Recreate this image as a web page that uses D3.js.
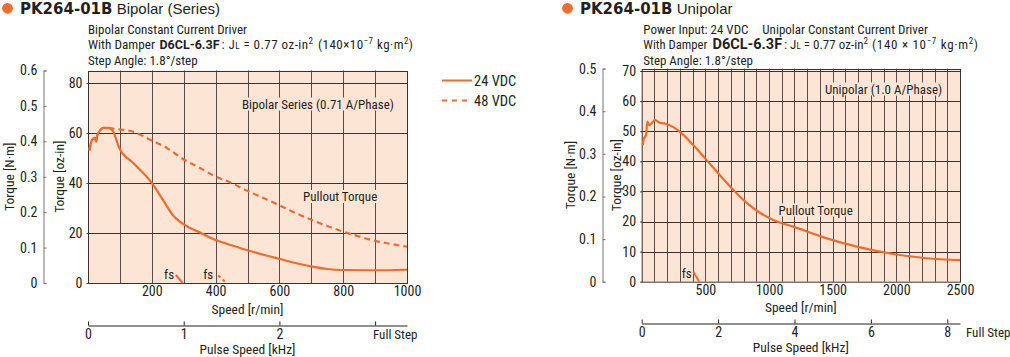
<!DOCTYPE html>
<html><head><meta charset="utf-8">
<script src="https://cdn.jsdelivr.net/npm/d3@7"></script>
<style>
body{margin:0;background:#fff}
text{font-family:'Roboto Condensed','Liberation Sans',sans-serif;fill:#231f20}
</style></head><body>
<svg id="c" width="1010" height="357"></svg>
<script>
// ---------- DATA ----------
// Bipolar (Series) chart, speed in r/min, torque in oz-in
const bipSpeed24  = [4,12,22,25,29,38,48,64,79,98,142,200,236,267,290,320,351,398,450,497,550,602,650,706,750,800,894,1000];
const bipTorque24 = [53,57,58,56.5,59,61,62,62,60.5,54,48,40,33,27,24.3,22,20.2,17.3,15.1,13.2,11.3,9.6,8.0,6.5,5.6,5.2,5.1,5.3];
const bipSpeed48  = [4,12,22,25,29,38,48,64,85,142,200,247,299,351,393,450,497,550,602,650,706,750,800,850,894,950,1000];
const bipTorque48 = [53,57,58,56.5,59,61,62,62,61.6,60.5,57,54,49.5,46,43,40,37,34,31,28,25,22.8,20.5,18.6,17,15.6,14.5];
const bipFsSpeed24 = [275,297], bipFsTorque24 = [3.3,0];
const bipFsSpeed48 = [408,434], bipFsTorque48 = [3,0];
const bipSpeedTicks = [200,400,600,800,1000];
const bipOzTicks = [0,20,40,60,80];
const bipNmTicks = [0,0.1,0.2,0.3,0.4,0.5,0.6];
const bipKhzTicks = [0,1,2,3];
const bipKhzLabels = ["0","1","2",""];
const legendLabels = ["24 VDC","48 VDC"];

// Unipolar chart
const uniSpeed  = [8,18,34,44,60,78,104,144,196,301,405,510,615,720,825,929,1034,1191,1453,1715,1976,2238,2500];
const uniTorque = [45.4,47.6,48.7,53.2,52,52.6,53.7,52.8,52.4,49.8,45.4,40.4,35.4,30.5,26.2,22.9,20.5,18.3,14.4,11.4,9.2,7.8,7.2];
const uniFsSpeed = [405,452], uniFsTorque = [3.3,0];
const uniSpeedTicks = [500,1000,1500,2000,2500];
const uniOzTicks = [0,10,20,30,40,50,60,70];
const uniNmTicks = [0,0.1,0.2,0.3,0.4,0.5];
const uniKhzTicks = [0,2,4,6,8];
const uniKhzLabels = ["0","2","4","6","8"];

// ---------- DRAW ----------
const OZ_PER_NM = 141.612;
const ORANGE = "#f26a2c", PEACH = "#fde5d6", GRID = "#3b3331", INK = "#231f20";
const COND = "'Roboto Condensed',sans-serif";
const svg = d3.select("#c");

function styleTicks(sel){
  sel.selectAll("text").style("font-size","14px").attr("fill",INK).style("font-family",COND);
}

function chart(o){
  const g = svg.append("g");
  const x = d3.scaleLinear().domain([0,o.xMax]).range([o.left,o.right]);
  const y = d3.scaleLinear().domain([0,o.nmMax*OZ_PER_NM]).range([o.bottom,o.top]);
  const yNm = d3.scaleLinear().domain([0,o.nmMax]).range([o.bottom,o.top]);
  const khz = d3.scaleLinear().domain([0,o.xMax/300]).range([o.left,o.right]);

  g.append("rect").attr("x",o.left).attr("y",o.top).attr("width",o.right-o.left).attr("height",o.bottom-o.top).attr("fill",PEACH);
  // grid
  g.append("g").selectAll("line").data(d3.range(o.gridStep,o.xMax,o.gridStep)).join("line")
    .attr("x1",d=>Math.round(x(d))+0.5).attr("x2",d=>Math.round(x(d))+0.5).attr("y1",o.top).attr("y2",o.bottom)
    .attr("stroke",GRID).attr("stroke-width",1).attr("stroke-opacity",0.85);
  g.append("g").selectAll("line").data(o.ozTicks.filter(d=>d>0)).join("line")
    .attr("y1",d=>Math.round(y(d))+0.5).attr("y2",d=>Math.round(y(d))+0.5).attr("x1",o.left).attr("x2",o.right)
    .attr("stroke",GRID).attr("stroke-width",1);
  g.append("rect").attr("x",o.left+0.5).attr("y",Math.round(o.top)+0.5).attr("width",o.right-o.left).attr("height",o.bottom-Math.round(o.top))
    .attr("fill","none").attr("stroke",GRID).attr("stroke-width",1);

  // labels inside plot with background
  o.notes.forEach(n=>{
    const t = g.append("text").attr("x",n.x).attr("y",n.y).style("font-size","13px").text(n.text);
    const b = t.node().getBBox();
    g.insert("rect","text").attr("x",b.x-1).attr("y",b.y+1).attr("width",b.width+2).attr("height",b.height-2).attr("fill",PEACH);
  });

  // curves
  const line = d3.line().x(d=>x(d[0])).y(d=>y(d[1])).curve(d3.curveMonotoneX);
  const segLine = d3.line().x(d=>x(d[0])).y(d=>y(d[1]));
  o.series.forEach(s=>{
    g.append("path").datum(d3.zip(s.speed,s.torque)).attr("d",line)
      .attr("fill","none").attr("stroke",ORANGE).attr("stroke-width",2.2)
      .attr("stroke-dasharray",s.dash||null).attr("stroke-linejoin","round");
    g.append("path").datum(d3.zip(s.fsSpeed,s.fsTorque)).attr("d",segLine)
      .attr("fill","none").attr("stroke",ORANGE).attr("stroke-width",2)
      .attr("stroke-dasharray",s.dash?"3,3":null);
    g.append("text").attr("x",x(s.fsSpeed[0])-s.fsOff).attr("y",o.bottom-4).style("font-size","13px").text("fs");
  });

  // oz-in axis
  const ozAx = g.append("g").attr("transform",`translate(${o.left+0.5},0)`)
    .call(d3.axisLeft(y).tickValues(o.ozTicks).tickSizeInner(2).tickSizeOuter(0).tickPadding(4));
  ozAx.select(".domain").remove();
  ozAx.selectAll("line").attr("stroke",GRID);
  styleTicks(ozAx);

  // N·m axis
  const nmAx = g.append("g").attr("transform",`translate(${o.nmX+0.5},0)`)
    .call(d3.axisLeft(yNm).tickValues(o.nmTicks).tickSizeInner(-3).tickSizeOuter(-3).tickPadding(6)
      .tickFormat(d=>d===0?"0":d3.format(".1f")(d)));
  nmAx.select(".domain").attr("stroke","#7a7472");
  nmAx.selectAll("line").attr("stroke","#7a7472");
  styleTicks(nmAx);

  // speed axis labels
  const sx = g.append("g").attr("transform",`translate(0,${o.bottom})`)
    .call(d3.axisBottom(x).tickValues(o.speedTicks).tickFormat(d3.format("d")).tickSize(0).tickPadding(o.speedPad));
  sx.select(".domain").remove();
  styleTicks(sx);

  // pulse speed axis
  const px = g.append("g").attr("transform",`translate(0,${o.pulseY+0.5})`)
    .call(d3.axisBottom(khz).tickValues(o.khzTicks).tickFormat((d,i)=>o.khzLabels[i]).tickSizeInner(-4).tickSizeOuter(0).tickPadding(4));
  px.select(".domain").attr("stroke",INK);
  px.selectAll("line").attr("stroke",INK);
  styleTicks(px);
  g.append("text").attr("x",o.fullStepX).attr("y",o.pulseY+14).style("font-size","13px").text("Full Step");

  // axis titles
  const cx = (o.left+o.right)/2;
  g.append("text").attr("x",cx).attr("y",o.speedTitleY).attr("text-anchor","middle").style("font-size","13.5px").text("Speed [r/min]");
  g.append("text").attr("x",cx).attr("y",o.pulseY+29).attr("text-anchor","middle").style("font-size","13.5px").text("Pulse Speed [kHz]");
  const my = (o.top+o.bottom)/2;
  g.append("text").attr("transform",`translate(${o.nmTitleX},${my}) rotate(-90)`).attr("text-anchor","middle").style("font-size","13.5px").text("Torque [N·m]");
  g.append("text").attr("transform",`translate(${o.ozTitleX},${my}) rotate(-90)`).attr("text-anchor","middle").style("font-size","13.5px").text("Torque [oz-in]");

  // header
  g.append("circle").attr("cx",o.dotX).attr("cy",8.3).attr("r",5.4).attr("fill",ORANGE);
  const tt = g.append("text").attr("x",o.dotX+12.5).attr("y",13.5);
  tt.append("tspan").style("font-family","'DejaVu Sans',sans-serif").style("font-weight","bold").style("font-size","15px").text("PK264-01B");
  tt.append("tspan").style("font-family","'Liberation Sans',Arial,sans-serif").style("font-size","15px").text(" "+o.title);
  return {x,y};
}

// "With Damper ..." line built from pieces
function damperLine(p, times){
  const yy = 49;
  svg.append("text").attr("x",p[0].x).attr("y",yy).style("font-size","13px")
    .attr("textLength",p[0].w).attr("lengthAdjust","spacingAndGlyphs").text("With Damper");
  svg.append("text").attr("x",p[1].x).attr("y",yy).style("font-family","Roboto,sans-serif").style("font-weight","bold")
    .style("font-size",p[1].size+"px").text("D6CL-6.3F");
  const a = svg.append("text").attr("x",p[2].x).attr("y",yy).style("font-size","13px")
    .attr("textLength",p[2].w).attr("lengthAdjust","spacing");
  a.append("tspan").text(": J");
  a.append("tspan").style("font-size","9px").text("L");
  a.append("tspan").text(" = 0.77 oz-in");
  a.append("tspan").attr("dy",-5).style("font-size","9px").text("2");
  const b = svg.append("text").attr("x",p[3].x).attr("y",yy).style("font-size","13px")
    .attr("textLength",p[3].w).attr("lengthAdjust","spacing");
  b.append("tspan").text("(140"+times+"10");
  b.append("tspan").attr("dy",-5).style("font-size","9px").text("−7");
  b.append("tspan").attr("dy",5).text(" kg·m");
  b.append("tspan").attr("dy",-5).style("font-size","9px").text("2");
  b.append("tspan").attr("dy",5).text(")");
}

chart({
  left:88, right:407, top:70.5, bottom:283, xMax:1000, nmMax:0.6, gridStep:100,
  ozTicks:bipOzTicks, nmTicks:bipNmTicks, speedTicks:bipSpeedTicks, khzTicks:bipKhzTicks, khzLabels:bipKhzLabels,
  nmX:43, nmTitleX:14, ozTitleX:64, pulseY:325, fullStepX:373, dotX:7.5, title:"Bipolar (Series)",
  speedPad:3.5, speedTitleY:313.5,
  notes:[{x:242,y:108.5,text:"Bipolar Series (0.71 A/Phase)"},{x:303,y:201,text:"Pullout Torque"}],
  series:[{speed:bipSpeed24,torque:bipTorque24,fsSpeed:bipFsSpeed24,fsTorque:bipFsTorque24,fsOff:11.7},
          {speed:bipSpeed48,torque:bipTorque48,fsSpeed:bipFsSpeed48,fsTorque:bipFsTorque48,fsOff:15,dash:"6,4"}]
});
svg.append("text").attr("x",88).attr("y",33.5).style("font-size","13px").text("Bipolar Constant Current Driver");
svg.append("text").attr("x",88).attr("y",64.5).style("font-size","13px").text("Step Angle: 1.8°/step");
damperLine([{x:88,w:67},{x:159.5,size:12.5},{x:221.5,w:91.5},{x:318,w:95}],"×");

// legend
legendLabels.forEach((lab,i)=>{
  const yy = 80.5 + i*20;
  svg.append("line").attr("x1",442).attr("x2",472).attr("y1",yy).attr("y2",yy).attr("stroke",ORANGE).attr("stroke-width",2)
    .attr("stroke-dasharray",i?"5,5":null);
  svg.append("text").attr("x",474).attr("y",yy+5).style("font-size","14.5px").text(lab);
});

chart({
  left:641.7, right:960, top:68.6, bottom:281.7, xMax:2500, nmMax:0.5, gridStep:100,
  ozTicks:uniOzTicks, nmTicks:uniNmTicks, speedTicks:uniSpeedTicks, khzTicks:uniKhzTicks, khzLabels:uniKhzLabels,
  nmX:602, nmTitleX:575, ozTitleX:621, pulseY:323, fullStepX:966, dotX:567.5, title:"Unipolar",
  speedPad:3, speedTitleY:311.5,
  notes:[{x:825,y:93.5,text:"Unipolar (1.0 A/Phase)"},{x:778.5,y:214.5,text:"Pullout Torque"}],
  series:[{speed:uniSpeed,torque:uniTorque,fsSpeed:uniFsSpeed,fsTorque:uniFsTorque,fsOff:11.6}]
});
svg.append("text").attr("x",643.3).attr("y",33.5).style("font-size","13px").text("Power Input: 24 VDC");
svg.append("text").attr("x",762.3).attr("y",33.5).style("font-size","13px").text("Unipolar Constant Current Driver");
svg.append("text").attr("x",643.3).attr("y",64.5).style("font-size","13px").text("Step Angle: 1.8°/step");
damperLine([{x:643.3,w:64},{x:712.5,size:14.5},{x:784,w:84},{x:872,w:106}]," × ");
</script></body></html>
